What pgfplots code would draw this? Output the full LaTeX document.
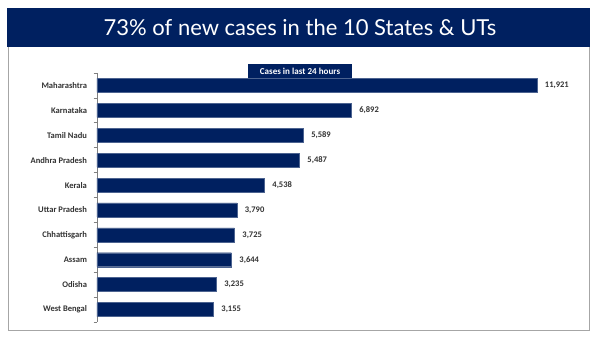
\documentclass[border=0pt]{standalone}
\usepackage{pgfplots}
\pgfplotsset{compat=1.18}
\usepackage{fontspec}
\setmainfont{Carlito}
\newfontfamily\titlefont{Lato}
\definecolor{navy}{HTML}{002060}
\definecolor{lbl}{HTML}{333333}
\begin{document}
\begin{tikzpicture}
\useasboundingbox (0,0) rectangle (450pt,253.5pt);
\fill[white] (0,0) rectangle (450pt,253.5pt);
% frame
\draw[gray!70, line width=0.6pt] (6pt,218.25pt) -- (6pt,6pt) -- (441.75pt,6pt) -- (441.75pt,218.25pt);
% banner
\fill[navy] (5.25pt,218.25pt) rectangle (442.5pt,247.5pt);
\node[text=white, font=\titlefont\fontsize{16.5}{20}\selectfont] at (225pt,233.25pt) {73\% of new cases in the 10 States \& UTs};
% subtitle
\node[fill=navy, text=white, font=\bfseries\fontsize{6.8}{7.5}\selectfont, inner sep=1.5pt, minimum width=78pt, minimum height=10.5pt] at (225pt,200.25pt) {Cases in last 24 hours};
\begin{axis}[
  at={(72.75pt,12pt)}, anchor=south west,
  scale only axis, width=360pt, height=186.75pt,
  xbar, bar width=10.5pt,
  xmin=0, xmax=13005,
  ymin=-0.5, ymax=9.5, y dir=reverse,
  axis x line=none,
  axis y line*=left,
  y axis line style={gray, line width=0.5pt, -},
  ytick={0,...,9},
  yticklabels={Maharashtra,Karnataka,Tamil Nadu,Andhra Pradesh,Kerala,Uttar Pradesh,Chhattisgarh,Assam,Odisha,West Bengal},
  major tick length=0pt,
  minor ytick={-0.5,0.5,...,9.5},
  minor tick length=2.5pt,
  tick align=outside,
  minor tick style={gray, line width=0.5pt},
  yticklabel style={font=\bfseries\fontsize{6.4}{7}\selectfont, text=lbl, xshift=-4pt},
  /pgf/number format/assume math mode=true,
  nodes near coords={\pgfmathprintnumber[1000 sep={,}, assume math mode=true]{\pgfplotspointmeta}},
  nodes near coords align={horizontal},
  every node near coord/.append style={font=\bfseries\fontsize{6.4}{7}\selectfont, text=lbl, anchor=west, xshift=2.5pt},
  point meta=explicit symbolic,
  clip=false,
]
\addplot[fill=navy, draw=navy!70!white, line width=0.3pt] coordinates {
(11921,0) [11921]
(6892,1) [6892]
(5589,2) [5589]
(5487,3) [5487]
(4538,4) [4538]
(3790,5) [3790]
(3725,6) [3725]
(3644,7) [3644]
(3235,8) [3235]
(3155,9) [3155]
};
\end{axis}
\end{tikzpicture}
\end{document}
